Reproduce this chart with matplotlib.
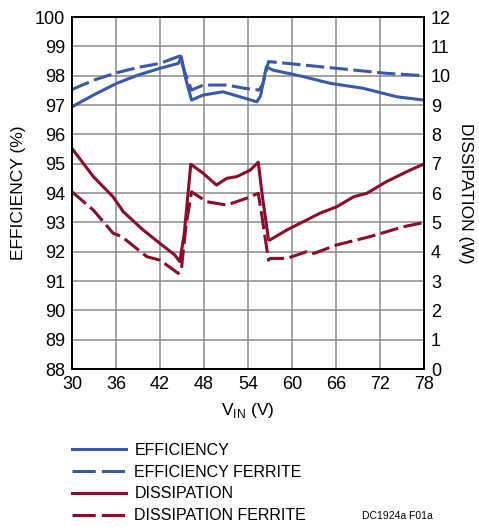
import matplotlib
matplotlib.use("Agg")
import matplotlib.pyplot as plt
from matplotlib.lines import Line2D

plt.rcParams['font.family'] = ['Liberation Sans Narrow', 'Liberation Sans', 'DejaVu Sans']

# efficiency (%) vs VIN (V)
eff_v = [30, 33, 36.1, 39, 42, 44.5, 44.9, 45.5, 46.3, 47.9, 50.6, 52.9, 55.2, 55.7, 56.5, 57.4,
         61.5, 65.2, 69.7, 74.3, 77.9]
eff = [96.94, 97.35, 97.74, 98.02, 98.25, 98.42, 98.65, 97.9, 97.17, 97.34, 97.45, 97.28, 97.11, 97.3,
       98.3, 98.19, 97.97, 97.74, 97.57, 97.28, 97.17]

effF_v = [30, 33, 36.1, 39, 42, 44.7, 45.4, 46.3, 47.9, 51.1, 53.5, 55.5, 56.0, 56.8, 59.3, 66.1, 72.9, 77.9]
effF = [97.53, 97.85, 98.1, 98.28, 98.42, 98.67, 98.1, 97.51, 97.68, 97.68, 97.57, 97.51, 97.7, 98.48,
        98.42, 98.25, 98.08, 98.0]

# dissipation (W) vs VIN (V)
dis_v = [30, 32.9, 35.6, 37.0, 39.7, 42, 44.0, 44.7, 45.3, 46.2, 47.9, 49.7, 51.1, 52.5, 54.3, 55.4,
         55.9, 56.8, 57.0, 59.3, 62.0, 63.8, 66.1, 68.4, 70.2, 72.9, 76.1, 77.9]
dis = [7.52, 6.56, 5.87, 5.36, 4.74, 4.28, 3.89, 3.66, 4.6, 6.98, 6.67, 6.27, 6.5, 6.56, 6.78, 7.05,
       6.0, 4.40, 4.40, 4.74, 5.08, 5.31, 5.53, 5.87, 5.99, 6.39, 6.78, 6.98]

disF_v = [30, 32.9, 35.6, 36.8, 40.2, 42, 44.5, 44.9, 45.5, 46.3, 48.4, 51.1, 53.8, 55.4, 55.9, 56.8,
          57.0, 59.3, 62.0, 63.0, 66.1, 70.6, 75.2, 77.9]
disF = [6.04, 5.42, 4.63, 4.51, 3.83, 3.71, 3.26, 3.35, 4.8, 6.04, 5.70, 5.59, 5.82, 5.99, 5.2, 3.71,
        3.77, 3.77, 4.0, 3.94, 4.23, 4.51, 4.85, 4.99]

blue = '#3b59a8'
red = '#8c0c2c'
lw = 2.2
dash = (6, 1.8)
legdash = (7.6, 2.0)

fig = plt.figure(figsize=(4.79, 5.27), dpi=100)
ax = fig.add_axes([72/479, 1-369/527, 352/479, 352/527])
ax2 = ax.twinx()

ax.plot(eff_v, eff, color=blue, lw=lw)
ax.plot(effF_v, effF, color=blue, lw=lw, dashes=dash)
ax2.plot(dis_v, dis, color=red, lw=lw)
ax2.plot(disF_v, disF, color=red, lw=lw, dashes=dash)

ax.set_xlim(30, 78)
ax.set_ylim(88, 100)
ax2.set_ylim(0, 12)
ax.set_xticks(range(30, 79, 6))
ax.set_yticks(range(88, 101))
ax2.set_yticks(range(0, 13))
ax.grid(True, color='#8a8a8a', lw=1.1)
for a in (ax, ax2):
    a.tick_params(length=0, labelsize=13, pad=5)
    for s in a.spines.values():
        s.set_linewidth(1.4)
ax.set_axisbelow(True)

ax.set_ylabel('EFFICIENCY (%)', fontsize=12.5, labelpad=6)
ax2.set_ylabel('DISSIPATION (W)', fontsize=12.5, rotation=270, labelpad=16)
ax.set_xlabel('V$_{\\mathregular{IN}}$ (V)', fontsize=12.5, labelpad=6)

handles = [Line2D([], [], color=blue, lw=lw),
           Line2D([], [], color=blue, lw=lw, dashes=legdash),
           Line2D([], [], color=red, lw=lw),
           Line2D([], [], color=red, lw=lw, dashes=legdash)]
labels = ['EFFICIENCY', 'EFFICIENCY FERRITE', 'DISSIPATION', 'DISSIPATION FERRITE']
fig.legend(handles, labels, loc='upper left', bbox_to_anchor=(72/479, 1-443/527),
           frameon=False, fontsize=11.5, handlelength=3.4, handletextpad=0.5,
           labelspacing=0.42, borderpad=0, borderaxespad=0)

fig.text(362/479, 1-519/527, 'DC1924a F01a', fontsize=7.5)

fig.savefig('out.png', dpi=100)
